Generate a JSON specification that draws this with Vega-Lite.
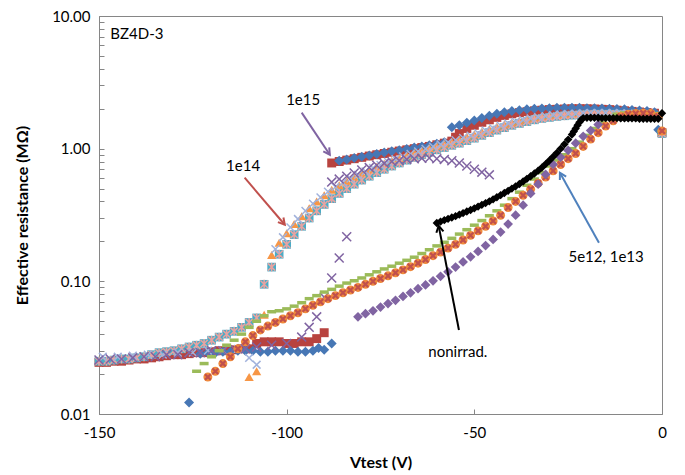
{
  "$schema": "https://vega.github.io/schema/vega-lite/v6.json",
  "width": 563,
  "height": 398,
  "autosize": {"type": "none"},
  "padding": {"left": 99, "top": 16, "right": 23, "bottom": 61},
  "background": "white",
  "config": {
    "view": {"stroke": "#868686", "strokeWidth": 1},
    "font": "Lato",
    "text": {"font": "Lato"}
  },
  "datasets": {
    "red": [
      {"v":-150,"r":0.0245},{"v":-148,"r":0.0245},{"v":-146,"r":0.025},{"v":-144,"r":0.025},{"v":-142,"r":0.0255},{"v":-140,"r":0.026},{"v":-138,"r":0.026},{"v":-136,"r":0.0265},{"v":-134,"r":0.027},{"v":-132,"r":0.0275},{"v":-130,"r":0.028},{"v":-128,"r":0.028},{"v":-126,"r":0.0285},{"v":-124,"r":0.029},{"v":-122,"r":0.029},{"v":-120,"r":0.0295},{"v":-118,"r":0.03},{"v":-116,"r":0.03},{"v":-114,"r":0.0305},{"v":-112,"r":0.031},{"v":-110,"r":0.031},{"v":-108,"r":0.034},{"v":-106,"r":0.035},{"v":-104,"r":0.035},{"v":-102,"r":0.035},{"v":-100,"r":0.034},{"v":-98,"r":0.034},{"v":-96,"r":0.035},{"v":-94,"r":0.035},{"v":-92,"r":0.037},{"v":-90,"r":0.041},
      {"v":-88,"r":0.78},{"v":-86,"r":0.8},{"v":-84,"r":0.82},{"v":-82,"r":0.84},{"v":-80,"r":0.86},{"v":-78,"r":0.88},{"v":-76,"r":0.9},{"v":-74,"r":0.92},{"v":-72,"r":0.94},{"v":-70,"r":0.96},{"v":-68,"r":0.98},{"v":-66,"r":1.0},{"v":-64,"r":1.02},{"v":-62,"r":1.04},{"v":-60,"r":1.07},{"v":-58,"r":1.1},{"v":-56,"r":1.14},{"v":-55,"r":1.22},{"v":-54,"r":1.3},{"v":-52,"r":1.42},{"v":-50,"r":1.5},{"v":-48,"r":1.58},{"v":-46,"r":1.65},{"v":-44,"r":1.72},{"v":-42,"r":1.78},{"v":-40,"r":1.83},{"v":-38,"r":1.87},{"v":-36,"r":1.9},{"v":-34,"r":1.93},{"v":-32,"r":1.95},{"v":-30,"r":1.97},{"v":-28,"r":1.98},{"v":-26,"r":1.99},{"v":-24,"r":2.0},{"v":-22,"r":2.0},{"v":-20,"r":2.0},{"v":-18,"r":1.99},{"v":-16,"r":1.98},{"v":-14,"r":1.97},{"v":-12,"r":1.95},{"v":-10,"r":1.93},{"v":-8,"r":1.91},{"v":-6,"r":1.89},{"v":-4,"r":1.87},{"v":-2,"r":1.85},{"v":0,"r":1.32}
    ],
    "blue": [
      {"v":-126,"r":0.0122},
      {"v":-123,"r":0.0285},{"v":-121,"r":0.029},{"v":-119,"r":0.029},{"v":-117,"r":0.0295},{"v":-115,"r":0.0295},{"v":-113,"r":0.03},{"v":-111,"r":0.03},{"v":-109,"r":0.03},{"v":-107,"r":0.0295},{"v":-105,"r":0.0295},{"v":-103,"r":0.03},{"v":-101,"r":0.03},{"v":-99,"r":0.03},{"v":-97,"r":0.0295},{"v":-95,"r":0.0295},{"v":-93,"r":0.03},{"v":-91.5,"r":0.0315},{"v":-90,"r":0.0305},{"v":-88,"r":0.034},
      {"v":-86,"r":0.81},{"v":-84,"r":0.83},{"v":-82,"r":0.85},{"v":-80,"r":0.87},{"v":-78,"r":0.89},{"v":-76,"r":0.91},{"v":-74,"r":0.935},{"v":-72,"r":0.955},{"v":-70,"r":0.975},{"v":-68,"r":0.995},{"v":-66,"r":1.02},{"v":-64,"r":1.04},{"v":-62,"r":1.06},{"v":-60,"r":1.09},{"v":-58,"r":1.12},{"v":-56,"r":1.45},{"v":-54,"r":1.5},{"v":-52,"r":1.57},{"v":-50,"r":1.63},{"v":-48,"r":1.7},{"v":-46,"r":1.77},{"v":-44,"r":1.83},{"v":-42,"r":1.88},{"v":-40,"r":1.92},{"v":-38,"r":1.95},{"v":-36,"r":1.98},{"v":-34,"r":2.0},{"v":-32,"r":2.01},{"v":-30,"r":2.02},{"v":-28,"r":2.03},{"v":-26,"r":2.03},{"v":-24,"r":2.03},{"v":-22,"r":2.03},{"v":-20,"r":2.02},{"v":-18,"r":2.02},{"v":-16,"r":2.01},{"v":-14,"r":2.0},{"v":-12,"r":1.99},{"v":-10,"r":1.98},{"v":-8,"r":1.96},{"v":-6,"r":1.94},{"v":-4,"r":1.92},{"v":-2,"r":1.88},{"v":-1,"r":1.39}
    ],
    "cyan": [
      {"v":-150,"r":0.025},{"v":-148,"r":0.025},{"v":-146,"r":0.0255},{"v":-144,"r":0.026},{"v":-142,"r":0.026},{"v":-140,"r":0.0265},{"v":-138,"r":0.027},{"v":-136,"r":0.028},{"v":-134,"r":0.029},{"v":-132,"r":0.0295},{"v":-130,"r":0.03},{"v":-128,"r":0.031},{"v":-126,"r":0.032},{"v":-124,"r":0.033},{"v":-122,"r":0.034},{"v":-120,"r":0.036},{"v":-118,"r":0.038},{"v":-116,"r":0.04},{"v":-114,"r":0.042},{"v":-112,"r":0.045},{"v":-110,"r":0.049},{"v":-108,"r":0.053},
      {"v":-106,"r":0.095},{"v":-104,"r":0.128},{"v":-102,"r":0.16},{"v":-100,"r":0.19},{"v":-98,"r":0.225},{"v":-96,"r":0.26},{"v":-94,"r":0.3},{"v":-92,"r":0.34},{"v":-90,"r":0.38},{"v":-88,"r":0.42},{"v":-86,"r":0.46},{"v":-84,"r":0.5},{"v":-82,"r":0.54},{"v":-80,"r":0.58},{"v":-78,"r":0.62},{"v":-76,"r":0.66},{"v":-74,"r":0.7},{"v":-72,"r":0.74},{"v":-70,"r":0.78},{"v":-68,"r":0.82},{"v":-66,"r":0.86},{"v":-64,"r":0.9},{"v":-62,"r":0.94},{"v":-60,"r":0.98},{"v":-58,"r":1.02},{"v":-56,"r":1.06},{"v":-54,"r":1.1},{"v":-52,"r":1.15},{"v":-50,"r":1.2},{"v":-48,"r":1.26},{"v":-46,"r":1.32},{"v":-44,"r":1.38},{"v":-42,"r":1.44},{"v":-40,"r":1.5},{"v":-38,"r":1.55},{"v":-36,"r":1.6},{"v":-34,"r":1.65},{"v":-32,"r":1.69},{"v":-30,"r":1.72},{"v":-28,"r":1.75},{"v":-26,"r":1.77},{"v":-24,"r":1.79},{"v":-22,"r":1.8},{"v":-20,"r":1.81},{"v":-18,"r":1.82},{"v":-16,"r":1.82},{"v":-14,"r":1.82},{"v":-12,"r":1.82},{"v":-10,"r":1.81},{"v":-8,"r":1.8},{"v":-6,"r":1.79},{"v":-4,"r":1.77},{"v":-2,"r":1.75},{"v":0,"r":1.3}
    ],
    "tri": [
      {"v":-110,"r":0.019},{"v":-108,"r":0.021},{"v":-106,"r":0.056},
      {"v":-104,"r":0.158},{"v":-102,"r":0.195},{"v":-100,"r":0.23},{"v":-98,"r":0.27},{"v":-96,"r":0.31},{"v":-94,"r":0.355},{"v":-92,"r":0.4},{"v":-90,"r":0.445},{"v":-88,"r":0.49},{"v":-86,"r":0.53},{"v":-84,"r":0.57},{"v":-82,"r":0.61},{"v":-80,"r":0.65},{"v":-78,"r":0.69},{"v":-76,"r":0.73},{"v":-74,"r":0.77},{"v":-72,"r":0.81},{"v":-70,"r":0.85},{"v":-68,"r":0.89},{"v":-66,"r":0.93},{"v":-64,"r":0.97},{"v":-62,"r":1.01},{"v":-60,"r":1.05},{"v":-58,"r":1.09},{"v":-56,"r":1.13},{"v":-54,"r":1.18},{"v":-52,"r":1.23},{"v":-50,"r":1.28},{"v":-48,"r":1.34},{"v":-46,"r":1.4},{"v":-44,"r":1.46},{"v":-42,"r":1.52},{"v":-40,"r":1.57},{"v":-38,"r":1.62},{"v":-36,"r":1.67},{"v":-34,"r":1.71},{"v":-32,"r":1.74},{"v":-30,"r":1.77},{"v":-28,"r":1.8},{"v":-26,"r":1.82},{"v":-24,"r":1.83},{"v":-22,"r":1.84},{"v":-20,"r":1.85},{"v":-18,"r":1.86},{"v":-16,"r":1.86},{"v":-14,"r":1.86},{"v":-12,"r":1.86},{"v":-10,"r":1.85},{"v":-8,"r":1.84},{"v":-6,"r":1.83},{"v":-4,"r":1.81},{"v":-2,"r":1.78},{"v":0,"r":1.35}
    ],
    "lav": [
      {"v":-149,"r":0.027},{"v":-145,"r":0.027},{"v":-141,"r":0.0275},{"v":-137,"r":0.028},{"v":-133,"r":0.028},{"v":-129,"r":0.029},{"v":-125,"r":0.029},{"v":-121,"r":0.03},{"v":-117,"r":0.03},{"v":-113,"r":0.031},{"v":-110,"r":0.0265},{"v":-108,"r":0.0235},
      {"v":-103,"r":0.175},{"v":-101,"r":0.215},{"v":-99,"r":0.255},{"v":-97,"r":0.295},{"v":-95,"r":0.34},{"v":-93,"r":0.385},{"v":-91,"r":0.43},{"v":-89,"r":0.475},{"v":-87,"r":0.515},{"v":-85,"r":0.555},{"v":-83,"r":0.595},{"v":-81,"r":0.635},{"v":-79,"r":0.675},{"v":-77,"r":0.715},{"v":-75,"r":0.755},{"v":-73,"r":0.795},{"v":-71,"r":0.835},{"v":-69,"r":0.875},{"v":-67,"r":0.915},{"v":-65,"r":0.955},{"v":-63,"r":0.995},{"v":-61,"r":1.035},{"v":-59,"r":1.075},{"v":-57,"r":1.115},{"v":-55,"r":1.16},{"v":-53,"r":1.205},{"v":-51,"r":1.255},{"v":-49,"r":1.31},{"v":-47,"r":1.37},{"v":-45,"r":1.43},{"v":-43,"r":1.49},{"v":-41,"r":1.55},{"v":-39,"r":1.6},{"v":-37,"r":1.65},{"v":-35,"r":1.69},{"v":-33,"r":1.73},{"v":-31,"r":1.76},{"v":-29,"r":1.79},{"v":-27,"r":1.81},{"v":-25,"r":1.83},{"v":-23,"r":1.84},{"v":-21,"r":1.85},{"v":-19,"r":1.86},{"v":-17,"r":1.86},{"v":-15,"r":1.86},{"v":-13,"r":1.86},{"v":-11,"r":1.85},{"v":-9,"r":1.84},{"v":-7,"r":1.83},{"v":-5,"r":1.81},{"v":-3,"r":1.79}
    ],
    "pux": [
      {"v":-150,"r":0.0255},{"v":-147,"r":0.026},{"v":-144,"r":0.026},{"v":-141,"r":0.0265},{"v":-138,"r":0.027},{"v":-135,"r":0.027},{"v":-132,"r":0.028},{"v":-129,"r":0.028},{"v":-126,"r":0.029},{"v":-123,"r":0.029},{"v":-120,"r":0.03},{"v":-117,"r":0.03},{"v":-114,"r":0.031},{"v":-111,"r":0.031},{"v":-108,"r":0.032},{"v":-104,"r":0.033},{"v":-100,"r":0.034},
      {"v":-96,"r":0.038},{"v":-94,"r":0.045},{"v":-92,"r":0.054},{"v":-90,"r":0.076},{"v":-88,"r":0.106},{"v":-86,"r":0.15},{"v":-84,"r":0.217},
      {"v":-88,"r":0.56},{"v":-86,"r":0.59},{"v":-84,"r":0.62},{"v":-82,"r":0.655},{"v":-80,"r":0.69},{"v":-78,"r":0.72},{"v":-76,"r":0.75},{"v":-74,"r":0.775},{"v":-72,"r":0.8},{"v":-70,"r":0.815},{"v":-68,"r":0.83},{"v":-66,"r":0.84},{"v":-64,"r":0.845},{"v":-62,"r":0.85},{"v":-60,"r":0.84},{"v":-58,"r":0.83},{"v":-56,"r":0.81},{"v":-54,"r":0.78},{"v":-52,"r":0.74},{"v":-50,"r":0.7},{"v":-48,"r":0.665},{"v":-46,"r":0.635}
    ],
    "green": [
      {"v":-124,"r":0.021},{"v":-122,"r":0.024},{"v":-120,"r":0.027},{"v":-118,"r":0.03},{"v":-116,"r":0.033},{"v":-114,"r":0.036},{"v":-112,"r":0.04},{"v":-110,"r":0.045},{"v":-108,"r":0.05},{"v":-106,"r":0.055},{"v":-104,"r":0.059},{"v":-102,"r":0.06},{"v":-100,"r":0.062},{"v":-98,"r":0.065},{"v":-96,"r":0.069},{"v":-94,"r":0.074},{"v":-92,"r":0.078},{"v":-90,"r":0.083},{"v":-88,"r":0.087},{"v":-86,"r":0.092},{"v":-84,"r":0.097},{"v":-82,"r":0.101},{"v":-80,"r":0.106},{"v":-78,"r":0.112},{"v":-76,"r":0.118},{"v":-74,"r":0.124},{"v":-72,"r":0.13},{"v":-70,"r":0.137},{"v":-68,"r":0.144},{"v":-66,"r":0.152},{"v":-64,"r":0.162},{"v":-62,"r":0.173},{"v":-60,"r":0.185},{"v":-58,"r":0.197},{"v":-56,"r":0.211},{"v":-54,"r":0.227},{"v":-52,"r":0.245},{"v":-50,"r":0.265},{"v":-48,"r":0.287},{"v":-46,"r":0.312},{"v":-44,"r":0.34},{"v":-42,"r":0.375},{"v":-40,"r":0.42},{"v":-38,"r":0.47},{"v":-36,"r":0.53},{"v":-34,"r":0.59},{"v":-32,"r":0.66},{"v":-30,"r":0.74},{"v":-28,"r":0.82},{"v":-26,"r":0.9},{"v":-24,"r":1.0},{"v":-22,"r":1.12},{"v":-20,"r":1.26},{"v":-18,"r":1.42},{"v":-16,"r":1.58},{"v":-14,"r":1.72},{"v":-12,"r":1.82},{"v":-10,"r":1.86},{"v":-8,"r":1.87},{"v":-6,"r":1.87},{"v":-4,"r":1.86},{"v":-2,"r":1.84},{"v":0,"r":1.35}
    ],
    "orange": [
      {"v":-121,"r":0.019},{"v":-119,"r":0.021},{"v":-117,"r":0.024},{"v":-115,"r":0.027},{"v":-113,"r":0.031},{"v":-111,"r":0.035},{"v":-109,"r":0.039},{"v":-107,"r":0.043},{"v":-105,"r":0.046},{"v":-103,"r":0.049},{"v":-101,"r":0.052},{"v":-99,"r":0.055},{"v":-97,"r":0.058},{"v":-95,"r":0.062},{"v":-93,"r":0.066},{"v":-91,"r":0.07},{"v":-89,"r":0.074},{"v":-87,"r":0.078},{"v":-85,"r":0.082},{"v":-83,"r":0.086},{"v":-81,"r":0.09},{"v":-79,"r":0.095},{"v":-77,"r":0.1},{"v":-75,"r":0.105},{"v":-73,"r":0.11},{"v":-71,"r":0.116},{"v":-69,"r":0.122},{"v":-67,"r":0.129},{"v":-65,"r":0.137},{"v":-63,"r":0.146},{"v":-61,"r":0.156},{"v":-59,"r":0.166},{"v":-57,"r":0.178},{"v":-55,"r":0.19},{"v":-53,"r":0.205},{"v":-51,"r":0.222},{"v":-49,"r":0.24},{"v":-47,"r":0.26},{"v":-45,"r":0.285},{"v":-43,"r":0.315},{"v":-41,"r":0.36},{"v":-39,"r":0.4},{"v":-37,"r":0.445},{"v":-35,"r":0.495},{"v":-33,"r":0.55},{"v":-31,"r":0.61},{"v":-29,"r":0.68},{"v":-27,"r":0.76},{"v":-25,"r":0.84},{"v":-23,"r":0.92},{"v":-21,"r":1.04},{"v":-19,"r":1.18},{"v":-17,"r":1.32},{"v":-15,"r":1.48},{"v":-13,"r":1.62},{"v":-11,"r":1.75},{"v":-9,"r":1.82},{"v":-7,"r":1.84},{"v":-5,"r":1.85},{"v":-3,"r":1.84},{"v":-1,"r":1.75},{"v":0,"r":1.36}
    ],
    "pud": [
      {"v":-81,"r":0.054},{"v":-79,"r":0.057},{"v":-77,"r":0.06},{"v":-75,"r":0.064},{"v":-73,"r":0.068},{"v":-71,"r":0.072},{"v":-69,"r":0.077},{"v":-67,"r":0.082},{"v":-65,"r":0.088},{"v":-63,"r":0.094},{"v":-61,"r":0.101},{"v":-59,"r":0.109},{"v":-57,"r":0.118},{"v":-55,"r":0.128},{"v":-53,"r":0.14},{"v":-51,"r":0.153},{"v":-49,"r":0.168},{"v":-47,"r":0.186},{"v":-45,"r":0.207},{"v":-43,"r":0.235},{"v":-41,"r":0.27},{"v":-39,"r":0.315},{"v":-37,"r":0.375},{"v":-35,"r":0.46},{"v":-33,"r":0.54},{"v":-31,"r":0.64},{"v":-29,"r":0.76},{"v":-27,"r":0.86},{"v":-25,"r":0.97},{"v":-23,"r":1.1},{"v":-21,"r":1.24},{"v":-19,"r":1.37},{"v":-17,"r":1.52}
    ],
    "black": [
      {"v":-60,"r":0.275},{"v":-59,"r":0.282},{"v":-58,"r":0.289},{"v":-57,"r":0.296},{"v":-56,"r":0.303},{"v":-55,"r":0.31},{"v":-54,"r":0.318},{"v":-53,"r":0.327},{"v":-52,"r":0.336},{"v":-51,"r":0.345},{"v":-50,"r":0.355},{"v":-49,"r":0.366},{"v":-48,"r":0.377},{"v":-47,"r":0.389},{"v":-46,"r":0.401},{"v":-45,"r":0.415},{"v":-44,"r":0.43},{"v":-43,"r":0.446},{"v":-42,"r":0.463},{"v":-41,"r":0.481},{"v":-40,"r":0.5},{"v":-39,"r":0.52},{"v":-38,"r":0.542},{"v":-37,"r":0.566},{"v":-36,"r":0.592},{"v":-35,"r":0.62},{"v":-34,"r":0.65},{"v":-33,"r":0.683},{"v":-32,"r":0.72},{"v":-31,"r":0.765},{"v":-30,"r":0.815},{"v":-29,"r":0.87},{"v":-28,"r":0.93},{"v":-27,"r":1.0},{"v":-26,"r":1.08},{"v":-25,"r":1.17},{"v":-24,"r":1.28},{"v":-23.5,"r":1.35},{"v":-23,"r":1.42},{"v":-22.5,"r":1.5},{"v":-22,"r":1.58},{"v":-21.5,"r":1.65},{"v":-21,"r":1.7},{"v":-20,"r":1.71},{"v":-19,"r":1.71},{"v":-18,"r":1.71},{"v":-17,"r":1.71},{"v":-16,"r":1.7},{"v":-15,"r":1.7},{"v":-14,"r":1.7},{"v":-13,"r":1.7},{"v":-12,"r":1.7},{"v":-11,"r":1.69},{"v":-10,"r":1.69},{"v":-9,"r":1.69},{"v":-8,"r":1.69},{"v":-7,"r":1.69},{"v":-6,"r":1.68},{"v":-5,"r":1.68},{"v":-4,"r":1.68},{"v":-3,"r":1.68},{"v":-2,"r":1.68},{"v":-1,"r":1.68},{"v":0,"r":1.85}
    ],
    "arrows": [
      {"a":"1e15","v":-96.0,"r":1.87,"v2":-88.5,"r2":0.9},
      {"a":"1e14","v":-111.2,"r":0.604,"v2":-100.5,"r2":0.267},
      {"a":"5e12","v":-16.8,"r":0.195,"v2":-27.2,"r2":0.659},
      {"a":"non","v":-54.1,"r":0.043,"v2":-59.5,"r2":0.262}
    ],
    "heads": [
      {"a":"1e15","v":-88.5,"r":0.9},
      {"a":"1e14","v":-100.5,"r":0.267},
      {"a":"5e12","v":-27.2,"r":0.659},
      {"a":"non","v":-59.5,"r":0.262}
    ],
    "texts": [
      {"t":"BZ4D-3","v":-139.9,"r":7.38},
      {"t":"1e15","v":-95.6,"r":2.34},
      {"t":"1e14","v":-111.6,"r":0.744},
      {"t":"5e12, 1e13","v":-14.9,"r":0.153},
      {"t":"nonirrad.","v":-54.4,"r":0.0294}
    ]
  },
  "encoding": {
    "x": {
      "field": "v", "type": "quantitative", "title": "Vtest (V)",
      "scale": {"domain": [-150, 0], "nice": false, "zero": false},
      "axis": {
        "values": [-150, -100, -50, 0],
        "labelExpr": "'' + datum.value",
        "labelFlush": false,
        "grid": false, "tickSize": -5, "tickColor": "#868686", "domainColor": "#868686",
        "labelFont": "Lato", "labelFontSize": 15, "labelColor": "#000", "labelPadding": 16,
        "titleFont": "Lato", "titleFontSize": 16, "titleFontWeight": "bold", "titleColor": "#000",
        "titleY": 48, "titleBaseline": "middle"
      }
    },
    "y": {
      "field": "r", "type": "quantitative", "title": "Effective resistance (MΩ)",
      "scale": {"type": "log", "domain": [0.01, 10], "nice": false},
      "axis": {
        "values": [0.01,0.02,0.03,0.04,0.05,0.06,0.07,0.08,0.09,0.1,0.2,0.3,0.4,0.5,0.6,0.7,0.8,0.9,1,2,3,4,5,6,7,8,9,10],
        "labelExpr": "datum.value == 0.01 ? '0.01' : datum.value == 0.1 ? '0.10' : datum.value == 1 ? '1.00' : datum.value == 10 ? '10.00' : ''",
        "labelFlush": false,
        "grid": false, "tickSize": -5, "tickColor": "#868686", "domainColor": "#868686",
        "labelFont": "Lato", "labelFontSize": 15, "labelColor": "#000", "labelPadding": 14,
        "titleFont": "Lato", "titleFontSize": 16, "titleFontWeight": "bold", "titleColor": "#000",
        "titleX": -77, "titleY": 199, "titleBaseline": "middle", "titleAlign": "center", "titleAngle": -90
      }
    }
  },
  "layer": [
    {"data": {"name": "red"}, "mark": {"type": "point", "shape": "square", "filled": true, "color": "#B8433F", "size": 80, "opacity": 1}},
    {"data": {"name": "blue"}, "mark": {"type": "point", "shape": "diamond", "filled": true, "color": "#4777B5", "size": 100, "opacity": 1}},
    {"data": {"name": "cyan"}, "mark": {"type": "point", "shape": "square", "filled": true, "color": "#4BACC6", "size": 75, "opacity": 1}},
    {"data": {"name": "tri"}, "mark": {"type": "point", "shape": "triangle-up", "filled": true, "color": "#F79646", "size": 85, "opacity": 1}},
    {"data": {"name": "cyan"}, "mark": {"type": "point", "shape": "M-1,-1L1,1M-1,1L1,-1M0,-1.2L0,1.2", "filled": false, "color": "#E8A3A1", "strokeWidth": 1.5, "size": 55, "opacity": 1}},
    {"data": {"name": "lav"}, "mark": {"type": "point", "shape": "M-1,-1L1,1M-1,1L1,-1", "filled": false, "color": "#A1B2DC", "strokeWidth": 1.5, "size": 60, "opacity": 1}},
    {"data": {"name": "pux"}, "mark": {"type": "point", "shape": "M-1,-1L1,1M-1,1L1,-1", "filled": false, "color": "#8064A2", "strokeWidth": 1.5, "size": 80, "opacity": 1}},
    {"data": {"name": "green"}, "mark": {"type": "point", "shape": "M-1,0L1,0", "filled": false, "color": "#9BBB59", "strokeWidth": 3.5, "size": 81, "opacity": 1}},
    {"data": {"name": "orange"}, "mark": {"type": "point", "shape": "circle", "filled": true, "color": "#F08A3C", "size": 80, "opacity": 1}},
    {"data": {"name": "orange"}, "mark": {"type": "point", "shape": "M-1,-1L1,1M-1,1L1,-1", "filled": false, "color": "#C0504D", "strokeWidth": 2.2, "size": 32, "opacity": 1}},
    {"data": {"name": "pud"}, "mark": {"type": "point", "shape": "diamond", "filled": true, "color": "#8064A2", "size": 95, "opacity": 1}},
    {"data": {"name": "black"}, "mark": {"type": "point", "shape": "diamond", "filled": true, "color": "#000000", "size": 70, "opacity": 1}},
    {
      "data": {"name": "arrows"},
      "mark": {"type": "rule", "strokeWidth": 2},
      "encoding": {
        "x2": {"field": "v2"}, "y2": {"field": "r2"},
        "color": {"field": "a", "type": "nominal", "legend": null, "scale": {"domain": ["1e15", "1e14", "5e12", "non"], "range": ["#8064A2", "#C0504D", "#4F81BD", "#000000"]}}
      }
    },
    {"data": {"name": "heads"}, "transform": [{"filter": "datum.a == '1e15'"}], "mark": {"type": "point", "shape": "M-0.9,1.6L0,0L0.9,1.6", "filled": false, "color": "#8064A2", "strokeWidth": 2, "size": 64, "angle": 146, "opacity": 1}},
    {"data": {"name": "heads"}, "transform": [{"filter": "datum.a == '1e14'"}], "mark": {"type": "point", "shape": "M-0.9,1.6L0,0L0.9,1.6", "filled": false, "color": "#C0504D", "strokeWidth": 2, "size": 64, "angle": 140, "opacity": 1}},
    {"data": {"name": "heads"}, "transform": [{"filter": "datum.a == '5e12'"}], "mark": {"type": "point", "shape": "M-0.9,1.6L0,0L0.9,1.6", "filled": false, "color": "#4F81BD", "strokeWidth": 2, "size": 64, "angle": 331, "opacity": 1}},
    {"data": {"name": "heads"}, "transform": [{"filter": "datum.a == 'non'"}], "mark": {"type": "point", "shape": "M-0.9,1.6L0,0L0.9,1.6", "filled": false, "color": "#000000", "strokeWidth": 2, "size": 64, "angle": 349, "opacity": 1}},
    {
      "data": {"name": "texts"},
      "mark": {"type": "text", "font": "Lato", "fontSize": 15, "color": "#000000", "align": "center", "baseline": "middle"},
      "encoding": {"text": {"field": "t", "type": "nominal"}}
    }
  ]
}
